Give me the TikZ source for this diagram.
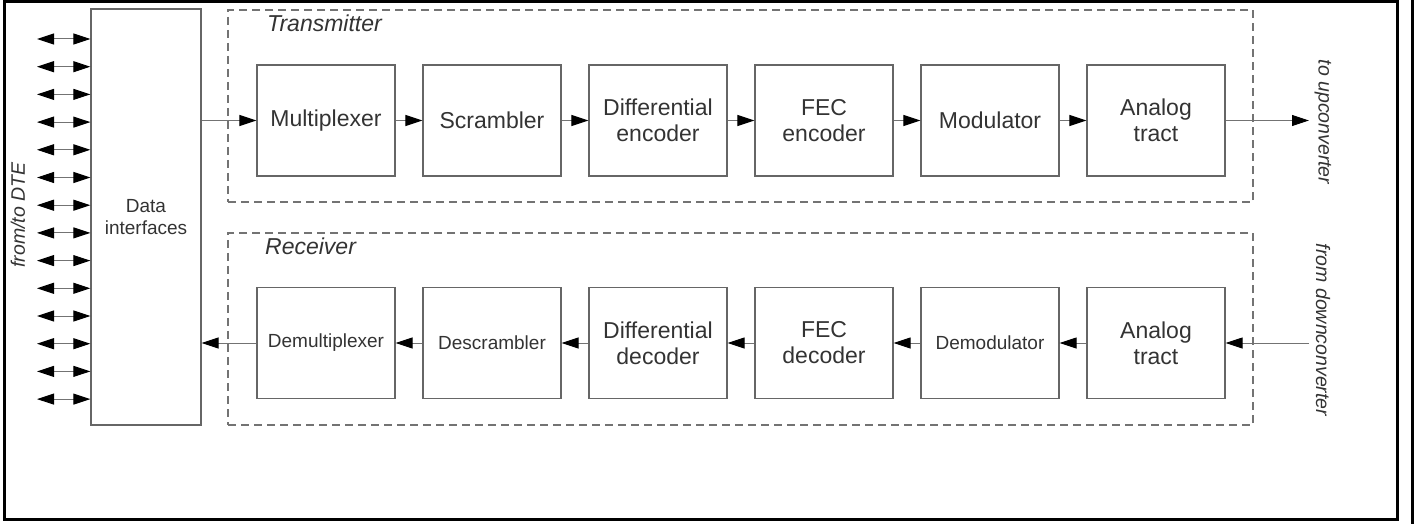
\documentclass[tikz,border=0pt]{standalone}
\usepackage{fontspec}
\setmainfont{Liberation Sans}
\usetikzlibrary{arrows.meta}

\begin{document}
\begin{tikzpicture}[x=1pt,y=-1pt,
  block/.style={draw=black!60, line width=1.3pt, minimum width=138pt, minimum height=111pt,
    align=center, inner sep=0pt, text=black!80, font=\fontsize{23}{26}\selectfont},
  smallblock/.style={block, font=\fontsize{19}{22}\selectfont},
  group/.style={draw=black!55, line width=1.3pt, dash pattern=on 8pt off 5pt, inner sep=0pt},
  grouplabel/.style={anchor=west, inner sep=0pt, text=black!80, font=\fontsize{23}{26}\selectfont\itshape},
  sidelabel/.style={inner sep=0pt, text=black!80, font=\fontsize{19.5}{22}\selectfont\itshape},
  tip/.tip={Triangle[length=17pt,width=11pt,color=black]},
  flow/.style={draw=black!55, line width=1pt, -tip},
  biflow/.style={draw=black!55, line width=1pt, tip-tip}
]
\useasboundingbox (0,0) rectangle (1422,524);

% page frame
\draw[line width=3pt] (4.5,1.5) rectangle (1397,519);
\draw[line width=3pt] (1412,0) -- (1412,524);

% transmitter and receiver groups
\node[group, minimum width=1025pt, minimum height=192pt] (txgrp) at (740.5,106) {};
\node[group, minimum width=1025pt, minimum height=192pt] (rxgrp) at (740.5,329) {};
\node[grouplabel] (txlbl) at (267,23) {Transmitter};
\node[grouplabel] (rxlbl) at (265,246) {Receiver};

% data interfaces
\node[draw=black!60, line width=1.3pt, minimum width=110pt, minimum height=416pt, align=center,
  inner sep=0pt, text=black!80, font=\fontsize{19}{22}\selectfont] (di) at (146,217) {Data\\interfaces};

% transmitter chain
\node[block] (mux) at (326,120.5) {Multiplexer};
\node[block] (scr) at (492,120.5) {Scrambler};
\node[block] (denc) at (658,120.5) {Differential\\encoder};
\node[block] (fenc) at (824,120.5) {FEC\\encoder};
\node[block] (mod) at (990,120.5) {Modulator};
\node[block] (atx) at (1156,120.5) {Analog\\tract};

% receiver chain
\node[smallblock] (demux) at (326,343) {Demultiplexer};
\node[smallblock] (dscr) at (492,343) {Descrambler};
\node[block] (ddec) at (658,343) {Differential\\decoder};
\node[block] (fdec) at (824,343) {FEC\\decoder};
\node[smallblock] (demod) at (990,343) {Demodulator};
\node[block] (arx) at (1156,343) {Analog\\tract};

% transmitter connectors
\draw[flow] (di.east |- mux.west) -- (mux.west);
\draw[flow] (mux) -- (scr);
\draw[flow] (scr) -- (denc);
\draw[flow] (denc) -- (fenc);
\draw[flow] (fenc) -- (mod);
\draw[flow] (mod) -- (atx);
\coordinate (up) at (1309,120.5);
\draw[flow] (atx.east) -- (up);

% receiver connectors
\coordinate (down) at (1309,343);
\draw[flow] (down) -- (arx.east);
\draw[flow] (arx) -- (demod);
\draw[flow] (demod) -- (fdec);
\draw[flow] (fdec) -- (ddec);
\draw[flow] (ddec) -- (dscr);
\draw[flow] (dscr) -- (demux);
\draw[flow] (demux.west) -- (di.east |- demux.west);

% DTE ports
\foreach \i in {0,...,13} {
  \coordinate (dte\i) at (37,39+27.7*\i);
  \draw[biflow] (dte\i) -- (di.west |- dte\i);
}

% side labels
\node[sidelabel, rotate=90] (dtelbl) at (18,215) {from/to DTE};
\node[sidelabel, rotate=-90] (uplbl) at (1323,122) {to upconverter};
\node[sidelabel, rotate=-90] (downlbl) at (1323,330) {from downconverter};
\end{tikzpicture}
\end{document}
